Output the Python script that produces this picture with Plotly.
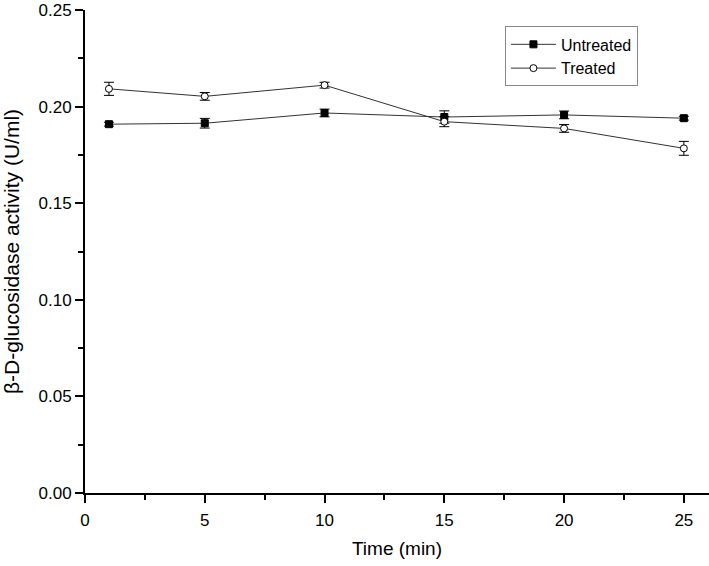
import plotly.graph_objects as go

time_min = [1, 5, 10, 15, 20, 25]
untreated = [0.1909, 0.1914, 0.1967, 0.1946, 0.1957, 0.1940]
untreated_err = [0.0010, 0.0025, 0.0020, 0.0032, 0.0020, 0.0010]
treated = [0.2092, 0.2053, 0.2111, 0.1922, 0.1887, 0.1784]
treated_err = [0.0034, 0.0020, 0.0015, 0.0026, 0.0020, 0.0036]

x_ticks = [0, 5, 10, 15, 20, 25]
y_ticks = [0.00, 0.05, 0.10, 0.15, 0.20, 0.25]

FONT = "Liberation Sans, Arial, sans-serif"

fig = go.Figure()
fig.add_trace(go.Scatter(
    x=time_min, y=untreated, name="Untreated", mode="lines+markers",
    line=dict(color="#333333", width=1),
    marker=dict(symbol="square", size=7, color="black", line=dict(color="black", width=1)),
    error_y=dict(type="data", array=untreated_err, visible=True, color="black", thickness=1, width=5),
))
fig.add_trace(go.Scatter(
    x=time_min, y=treated, name="Treated", mode="lines+markers",
    line=dict(color="#333333", width=1),
    marker=dict(symbol="circle", size=7, color="white", line=dict(color="black", width=1)),
    error_y=dict(type="data", array=treated_err, visible=True, color="black", thickness=1, width=5),
))

fig.update_layout(
    width=709, height=566,
    margin=dict(l=85, r=0, t=10, b=73, autoexpand=False),
    paper_bgcolor="white", plot_bgcolor="white",
    font=dict(family=FONT, size=17, color="black"),
    showlegend=True,
    legend=dict(
        x=0.673, y=0.966, xanchor="left", yanchor="top",
        bordercolor="#888888", borderwidth=1, bgcolor="white",
        font=dict(family=FONT, size=16, color="black"),
        tracegroupgap=0, itemwidth=45,
    ),
)
fig.update_xaxes(
    range=[0, 26.05], tickvals=x_ticks, ticktext=[str(v) for v in x_ticks],
    automargin=False,
    showgrid=False, zeroline=False, showline=True, linecolor="black", linewidth=2,
    ticks="outside", ticklen=8, tickwidth=1.5, tickcolor="black",
    ticklabelstandoff=3,
    minor=dict(dtick=2.5, tick0=0, ticks="outside", ticklen=5, tickwidth=1.5, tickcolor="black", showgrid=False),
    title=dict(text="Time (min)", font=dict(family=FONT, size=19), standoff=12),
    tickfont=dict(family=FONT, size=17),
)
fig.update_yaxes(
    range=[0, 0.25], tickvals=y_ticks, ticktext=["%.2f" % v for v in y_ticks],
    tickmode="array",
    automargin=False,
    showgrid=False, zeroline=False, showline=True, linecolor="black", linewidth=2,
    ticks="outside", ticklen=8, tickwidth=1.5, tickcolor="black",
    minor=dict(tickvals=[0.025, 0.075, 0.125, 0.175, 0.225], ticks="outside", ticklen=5, tickwidth=1.5, tickcolor="black", showgrid=False),
    title=dict(text="β-D-glucosidase activity (U/ml)", font=dict(family=FONT, size=21), standoff=15),
    tickfont=dict(family=FONT, size=17),
)

fig.write_html("out.html", config={"displayModeBar": False},
               post_script="document.body.style.margin='0';")
